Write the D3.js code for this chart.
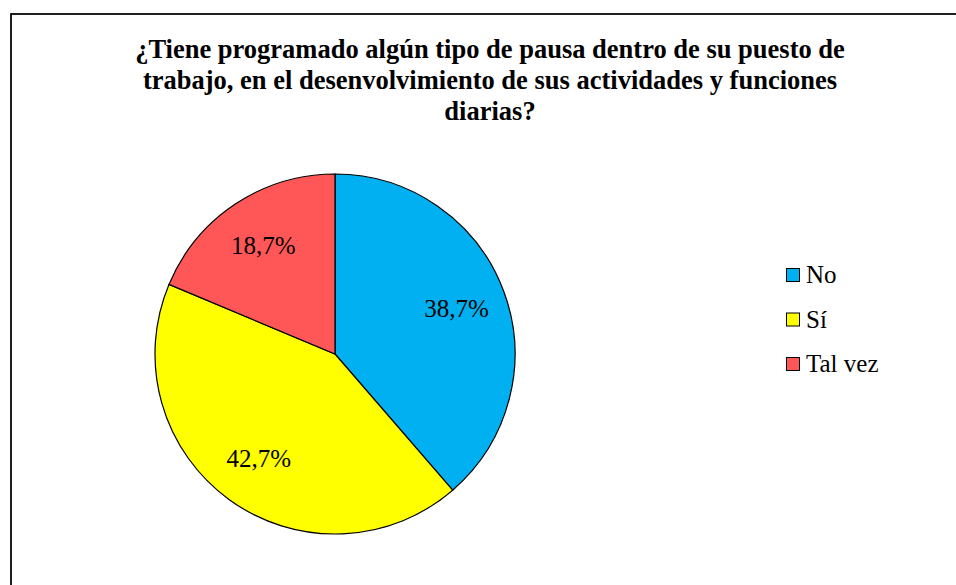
<!DOCTYPE html>
<html>
<head>
<meta charset="utf-8">
<script src="https://cdn.jsdelivr.net/npm/d3@7"></script>
<style>
  body { margin: 0; background: #fff; }
</style>
</head>
<body>
<div class="chart"></div>
<script>
const categories = ["No", "Sí", "Tal vez"];
const values = [38.7, 42.7, 18.7];
const colors = ["#00B0F0", "#FFFF00", "#FF5757"];
const titleLines = [
    "¿Tiene programado algún tipo de pausa dentro de su puesto de",
    "trabajo, en el desenvolvimiento de sus actividades y funciones",
    "diarias?"
];

const serif = "Liberation Serif";

function drawChart() {
    const w = 956;
    const h = 585;
    const cx = 335, cy = 354, r = 180;

    const svg = d3.select('.chart')
        .append('svg')
        .attr('width', w)
        .attr('height', h)
        .attr('font-family', serif);

    // chart area border (runs off the right and bottom edges)
    svg.append('rect')
        .attr('x', 11)
        .attr('y', 14)
        .attr('width', 980)
        .attr('height', 620)
        .attr('fill', 'none')
        .attr('stroke', '#000')
        .attr('stroke-width', 1.75);

    svg.append('text')
        .attr('text-anchor', 'middle')
        .attr('font-weight', 'bold')
        .attr('font-size', 26.5)
        .attr('font-family', serif)
        .selectAll('tspan')
        .data(titleLines)
        .enter()
        .append('tspan')
        .attr('x', 490)
        .attr('y', (d, i) => 58 + i * 31)
        .text(d => d);

    const pie = d3.pie().sort(null).value(d => d);
    const arcs = pie(values);
    const arc = d3.arc().innerRadius(0).outerRadius(r);
    const labelArc = d3.arc().innerRadius(r * 0.72).outerRadius(r * 0.72);

    const g = svg.append('g')
        .attr('transform', 'translate(' + cx + ',' + cy + ')');

    g.selectAll('path')
        .data(arcs)
        .enter()
        .append('path')
        .attr('d', arc)
        .attr('fill', (d, i) => colors[i])
        .attr('stroke', '#000')
        .attr('stroke-width', 1.2);

    g.selectAll('.lbl')
        .data(arcs)
        .enter()
        .append('text')
        .attr('class', 'lbl')
        .attr('transform', d => 'translate(' + labelArc.centroid(d) + ')')
        .attr('text-anchor', 'middle')
        .attr('dy', '0.33em')
        .attr('font-size', 25)
        .attr('font-family', serif)
        .text(d => d3.format('.1f')(d.data).replace('.', ',') + '%');

    const legend = svg.append('g')
        .attr('transform', 'translate(786, 275)');

    const item = legend.selectAll('g')
        .data(categories)
        .enter()
        .append('g')
        .attr('transform', (d, i) => 'translate(0,' + i * 44.5 + ')');

    item.append('rect')
        .attr('x', 0.5)
        .attr('y', -6.5)
        .attr('width', 13)
        .attr('height', 13)
        .attr('fill', (d, i) => colors[i])
        .attr('stroke', '#000')
        .attr('stroke-width', 1);

    item.append('text')
        .attr('x', 20)
        .attr('dy', '0.33em')
        .attr('font-size', 25)
        .attr('font-family', serif)
        .text(d => d);
}

drawChart();
</script>
</body>
</html>
